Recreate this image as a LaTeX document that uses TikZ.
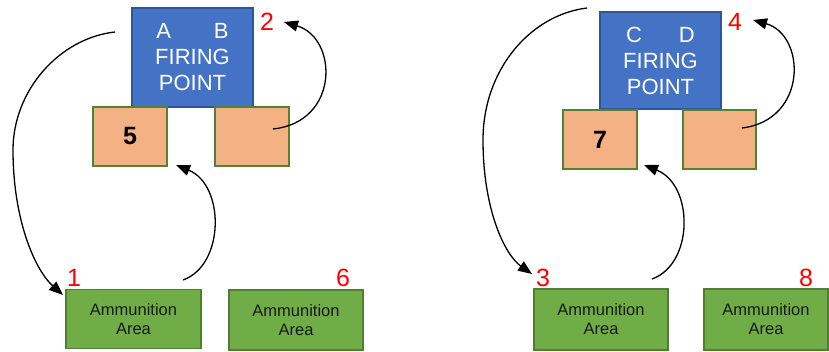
\documentclass[tikz,border=0pt]{standalone}
\usepackage{fontspec}
\setmainfont{Liberation Sans}
\usetikzlibrary{arrows.meta}
\definecolor{fpblue}{HTML}{4472C4}
\definecolor{fpedge}{HTML}{2F5597}
\definecolor{orfill}{HTML}{F4B183}
\definecolor{oredge}{HTML}{548235}
\definecolor{grfill}{HTML}{70AD47}
\definecolor{gredge}{HTML}{507E32}
\tikzset{
  firebox/.style={draw=fpedge, fill=fpblue, line width=1.5pt, minimum width=121pt, minimum height=99pt, inner sep=0pt, text=white, align=center, font=\fontsize{22}{26}\selectfont},
  orbox/.style={draw=oredge, fill=orfill, line width=1.8pt, minimum width=74pt, minimum height=59pt, inner sep=0pt, font=\fontsize{25}{26}\selectfont\bfseries},
  ammo/.style={draw=gredge, fill=grfill, line width=1.5pt, minimum width=135pt, minimum height=59pt, inner sep=0pt, align=center, text=black!90, font=\fontsize{16.5}{19}\selectfont},
  num/.style={text=red, inner sep=0pt, font=\fontsize{25}{25}\selectfont},
  flow/.style={line width=1.3pt, -{Triangle[length=14pt,width=11pt]}}
}
\begin{document}
\begin{tikzpicture}[x=1pt,y=-1pt]
\useasboundingbox (0,0) rectangle (829,352);
% left panel
\node[firebox] (fp1) at (192.5,57.5) {A\hspace{43pt}B\\FIRING\\POINT};
\node[orbox] (o1a) at (130,136.5) {5};
\node[orbox] (o1b) at (252,136.5) {};
\node[ammo] (g1) at (133.5,319) {Ammunition\\Area};
\node[ammo, minimum width=134pt, minimum height=60pt] (g2) at (296,320) {Ammunition\\Area};
\node[num] (n2) at (267,22) {2};
\node[num] (n1) at (74,278) {1};
\node[num] (n6) at (343,278) {6};
% right panel
\node[firebox, minimum height=97pt] (fp2) at (660.5,60.5) {C\hspace{37pt}D\\FIRING\\POINT};
\node[orbox] (o2a) at (600,139.5) {7};
\node[orbox, minimum width=73pt] (o2b) at (719.5,139.5) {};
\node[ammo, minimum width=134pt, minimum height=61pt] (g3) at (601,319.5) {Ammunition\\Area};
\node[ammo, minimum width=124pt, minimum height=61pt] (g4) at (766,319.5) {Ammunition\\Area};
\node[num] (n4) at (735,22) {4};
\node[num] (n3) at (543,278) {3};
\node[num] (n8) at (806,278) {8};
% arrow endpoints
\coordinate (s1) at (115,32);
\coordinate (t1) at (63,295);
\coordinate (s2) at (273,129);
\coordinate (t2) at (284,22);
\coordinate (s3) at (183,280);
\coordinate (t3) at (176,165);
\coordinate (s4) at (587,8);
\coordinate (t4) at (532,274);
\coordinate (s5) at (742,128);
\coordinate (t5) at (753,20);
\coordinate (s6) at (652,279);
\coordinate (t6) at (644,165);
% arrows
\draw[flow] (s1) .. controls (60,38) and (13,90) .. (13,150) .. controls (13,220) and (35,270) .. (t1);
\draw[flow] (s2) .. controls (340,122) and (338,38) .. (t2);
\draw[flow] (s3) .. controls (225,265) and (225,185) .. (t3);
\draw[flow] (s4) .. controls (530,15) and (483,70) .. (483,140) .. controls (483,210) and (505,255) .. (t4);
\draw[flow] (s5) .. controls (808,120) and (806,35) .. (t5);
\draw[flow] (s6) .. controls (694,264) and (694,185) .. (t6);
\end{tikzpicture}
\end{document}
